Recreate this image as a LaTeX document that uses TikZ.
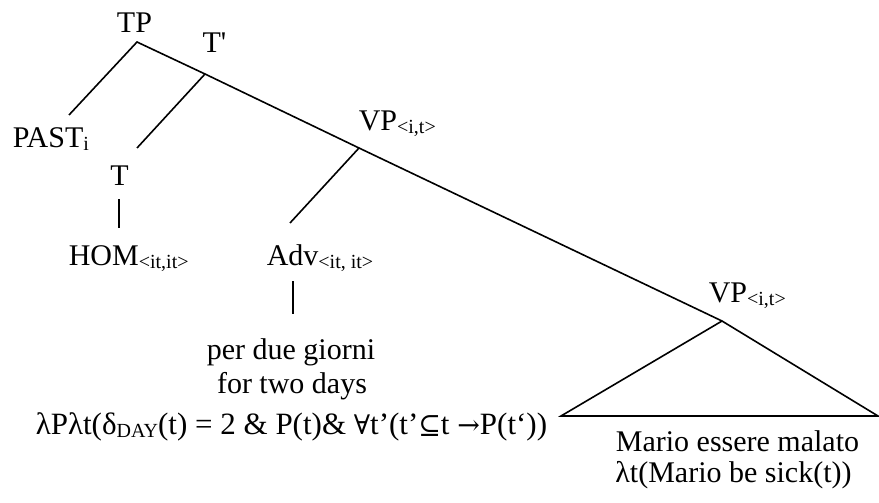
\documentclass[tikz,border=0pt]{standalone}
\usepackage{fontspec}
\setmainfont{Liberation Serif}[Ligatures=TeXOff]
\newfontfamily\symfont{DejaVu Serif}
\newcommand\sbs[1]{\raisebox{-3pt}{\fontsize{20}{20}\selectfont #1}}
\newcommand\sy[1]{{\symfont\fontsize{27}{30}\selectfont #1}}

\begin{document}
\begin{tikzpicture}[x=1pt,y=-1pt,line width=1.6pt,
	lbl/.style={inner sep=0pt,anchor=base,font=\fontsize{30}{34}\selectfont},
	lblw/.style={lbl,anchor=base west}]
	\useasboundingbox (0,0) rectangle (879,503);
	% branching points
	\coordinate (tp) at (137,42);
	\coordinate (tbar) at (205,74);
	\coordinate (vpa) at (359,148);
	\coordinate (vpb) at (722,321);
	\coordinate (past-top) at (69,115);
	\coordinate (t-top) at (137,148);
	\coordinate (adv-top) at (290,223);
	\coordinate (tri-l) at (561,416);
	\coordinate (tri-r) at (878,416);
	\coordinate (t-bar1) at (119,199);
	\coordinate (t-bar2) at (119,228);
	\coordinate (adv-bar1) at (293,281);
	\coordinate (adv-bar2) at (293,314);
	% labels
	\node[lbl] (tp-lbl) at (134.5,33) {TP};
	\node[lbl] (tbar-lbl) at (214.5,53) {T'};
	\node[lblw] (past) at (12,147) {PAST\sbs{i}};
	\node[lbl] (t) at (119.5,185) {T};
	\node[lblw] (hom) at (68,265) {HOM\sbs{<it,it>}};
	\node[lblw] (vpa-lbl) at (358,130) {VP\sbs{<i,t>}};
	\node[lblw] (adv) at (266,265) {Adv\sbs{<it, it>}};
	\node[lbl] (per) at (291,359) {per due giorni};
	\node[lbl] (for) at (292,393) {for two days};
	\node[lblw,font=\fontsize{31}{34}\selectfont] (form) at (35,434)
		{λPλt(δ\sbs{DAY}(t) = 2 \& P(t)\& \sy{∀}t’(t’\sy{⊆}t \sy{→}P(t‘))};
	\node[lblw] (vpb-lbl) at (708,302) {VP\sbs{<i,t>}};
	\node[lbl] (mario) at (737.5,451) {Mario essere malato};
	\node[lbl] (sick) at (733.5,482) {λt(Mario be sick(t))};
	% branches
	\draw (past-top) -- (tp) -- (tbar) -- (vpa) -- (vpb);
	\draw (t-top) -- (tbar);
	\draw (adv-top) -- (vpa);
	\draw (tri-l) -- (vpb) -- (tri-r) -- cycle;
	\draw (t-bar1) -- (t-bar2);
	\draw (adv-bar1) -- (adv-bar2);
\end{tikzpicture}
\end{document}
